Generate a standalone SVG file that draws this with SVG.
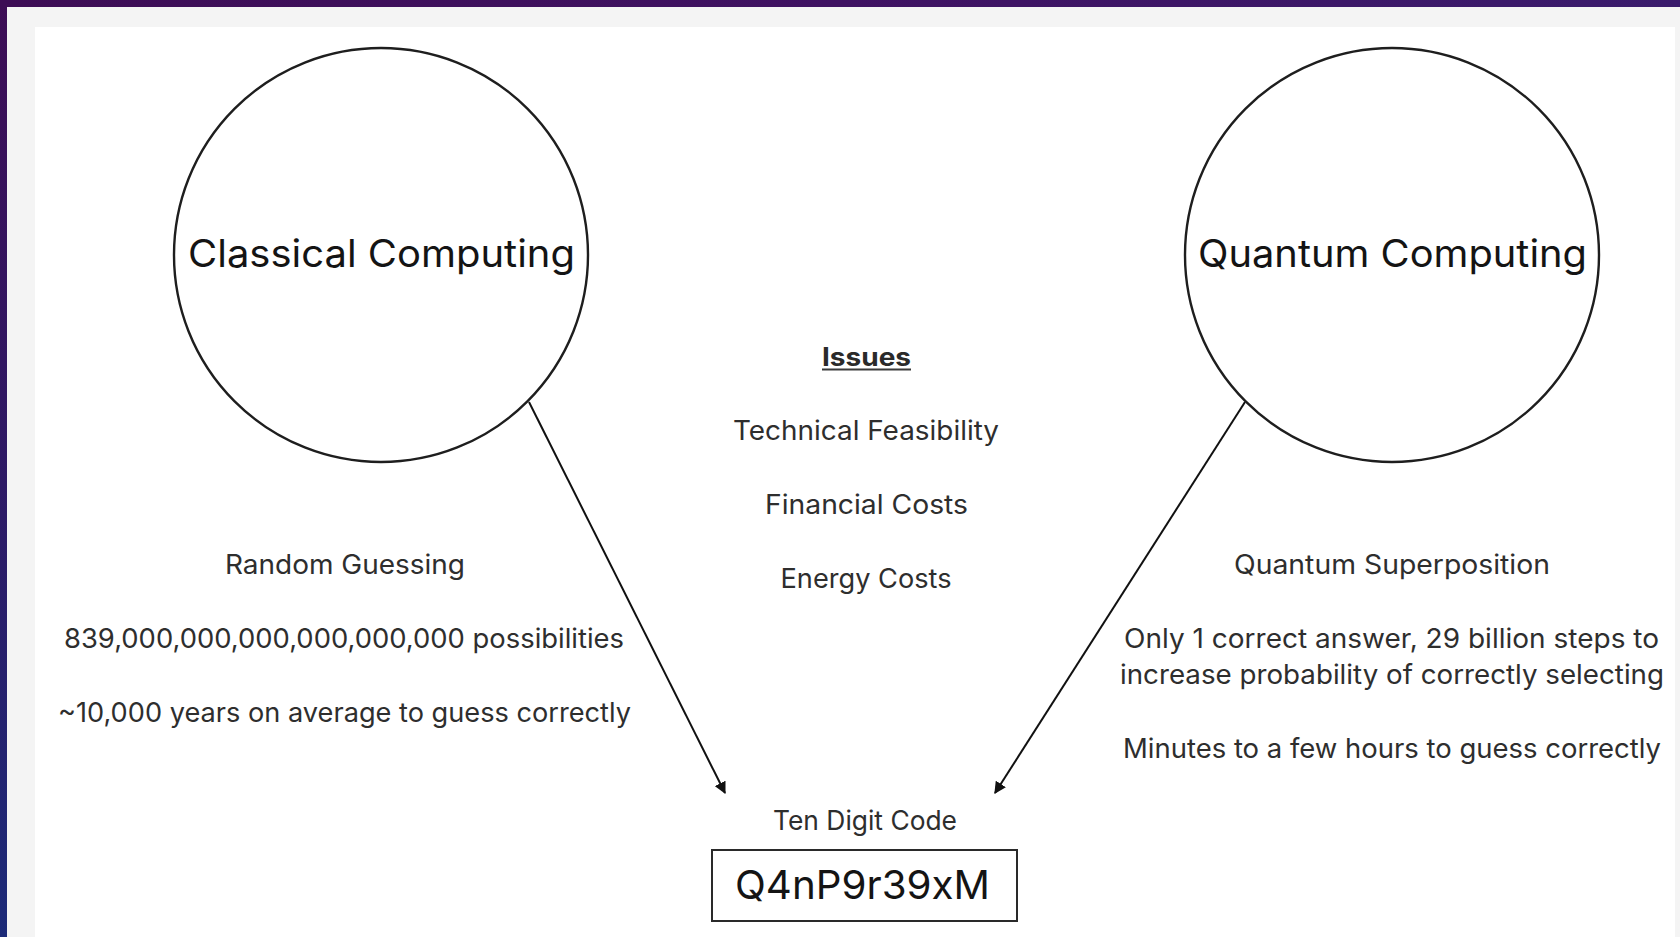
<svg xmlns="http://www.w3.org/2000/svg" width="1680" height="937" viewBox="0 0 1680 937">
  <defs>
    <linearGradient id="topBand" x1="0" y1="0" x2="1" y2="0">
      <stop offset="0" stop-color="#3d0d55"/>
      <stop offset="0.5" stop-color="#3f1262"/>
      <stop offset="1" stop-color="#3a1b6c"/>
    </linearGradient>
    <linearGradient id="sideBand" x1="0" y1="0" x2="0" y2="1">
      <stop offset="0" stop-color="#3d0d55"/>
      <stop offset="0.55" stop-color="#2c1a66"/>
      <stop offset="1" stop-color="#1c2a78"/>
    </linearGradient>
    <marker id="arrowHead" viewBox="0 0 10 10" refX="9" refY="5" markerWidth="6" markerHeight="6" markerUnits="strokeWidth" orient="auto">
      <path d="M0,0 L10,5 L0,10 z" fill="#111"/>
    </marker>
    <style>
      .ring { fill: none; stroke: #1e1e1e; stroke-width: 2.4; }
      .title { font-family: Inter, "Liberation Sans", sans-serif; font-size: 38px; fill: #141414; text-anchor: middle; }
      .label { font-family: Inter, "Liberation Sans", sans-serif; font-size: 27px; fill: #2e2e2e; text-anchor: middle; }
      .head { font-family: Inter, "Liberation Sans", sans-serif; font-size: 25px; font-weight: 700; fill: #2a2a2a; text-anchor: middle; }
      .code { font-family: Inter, "Liberation Sans", sans-serif; font-size: 40px; fill: #141414; text-anchor: middle; }
      .link { stroke: #111; stroke-width: 2; fill: none; marker-end: url(#arrowHead); }
    </style>
  </defs>

  <!-- frame -->
  <rect x="0" y="0" width="1680" height="937" fill="url(#sideBand)"/>
  <rect x="0" y="0" width="1680" height="7" fill="url(#topBand)"/>
  <rect x="7" y="7" width="1673" height="930" fill="#f4f4f4"/>
  <rect x="35" y="27" width="1640" height="910" fill="#ffffff"/>

  <!-- connectors -->
  <g id="connectors">
    <line class="link" x1="529" y1="402" x2="725" y2="793"/>
    <line class="link" x1="1245" y1="402" x2="995" y2="793"/>
  </g>

  <g id="classical">
    <circle class="ring" cx="381" cy="255" r="207"/>
    <text class="title" x="381.5" y="267" textLength="387" lengthAdjust="spacingAndGlyphs">Classical Computing</text>
  </g>

  <g id="quantum">
    <circle class="ring" cx="1392" cy="255" r="207"/>
    <text class="title" x="1392.5" y="267" textLength="389" lengthAdjust="spacingAndGlyphs">Quantum Computing</text>
  </g>

  <g id="classical-notes">
    <text class="label" x="345" y="574" textLength="240" lengthAdjust="spacingAndGlyphs">Random Guessing</text>
    <text class="label" x="344" y="648" textLength="560" lengthAdjust="spacingAndGlyphs">839,000,000,000,000,000,000 possibilities</text>
    <text class="label" x="344.5" y="722" textLength="573" lengthAdjust="spacingAndGlyphs">~10,000 years on average to guess correctly</text>
  </g>

  <g id="issues">
    <text class="head" x="866.5" y="366" textLength="89" lengthAdjust="spacingAndGlyphs">Issues</text>
    <rect x="822" y="368.5" width="89" height="2" fill="#3a3a3a"/>
    <text class="label" x="866" y="440" textLength="266" lengthAdjust="spacingAndGlyphs">Technical Feasibility</text>
    <text class="label" x="866.5" y="514" textLength="203" lengthAdjust="spacingAndGlyphs">Financial Costs</text>
    <text class="label" x="866" y="588" textLength="171" lengthAdjust="spacingAndGlyphs">Energy Costs</text>
  </g>

  <g id="quantum-notes">
    <text class="label" x="1392" y="574" textLength="316" lengthAdjust="spacingAndGlyphs">Quantum Superposition</text>
    <text class="label" x="1391.5" y="648" textLength="535" lengthAdjust="spacingAndGlyphs">Only 1 correct answer, 29 billion steps to</text>
    <text class="label" x="1392" y="684" textLength="544" lengthAdjust="spacingAndGlyphs">increase probability of correctly selecting</text>
    <text class="label" x="1392" y="758" textLength="538" lengthAdjust="spacingAndGlyphs">Minutes to a few hours to guess correctly</text>
  </g>

  <g id="code">
    <text class="label" x="865" y="830" textLength="184" lengthAdjust="spacingAndGlyphs">Ten Digit Code</text>
    <rect x="712" y="850" width="305" height="71" fill="none" stroke="#2a2a2a" stroke-width="2"/>
    <text class="code" x="862.5" y="899" textLength="255" lengthAdjust="spacingAndGlyphs">Q4nP9r39xM</text>
  </g>
</svg>
